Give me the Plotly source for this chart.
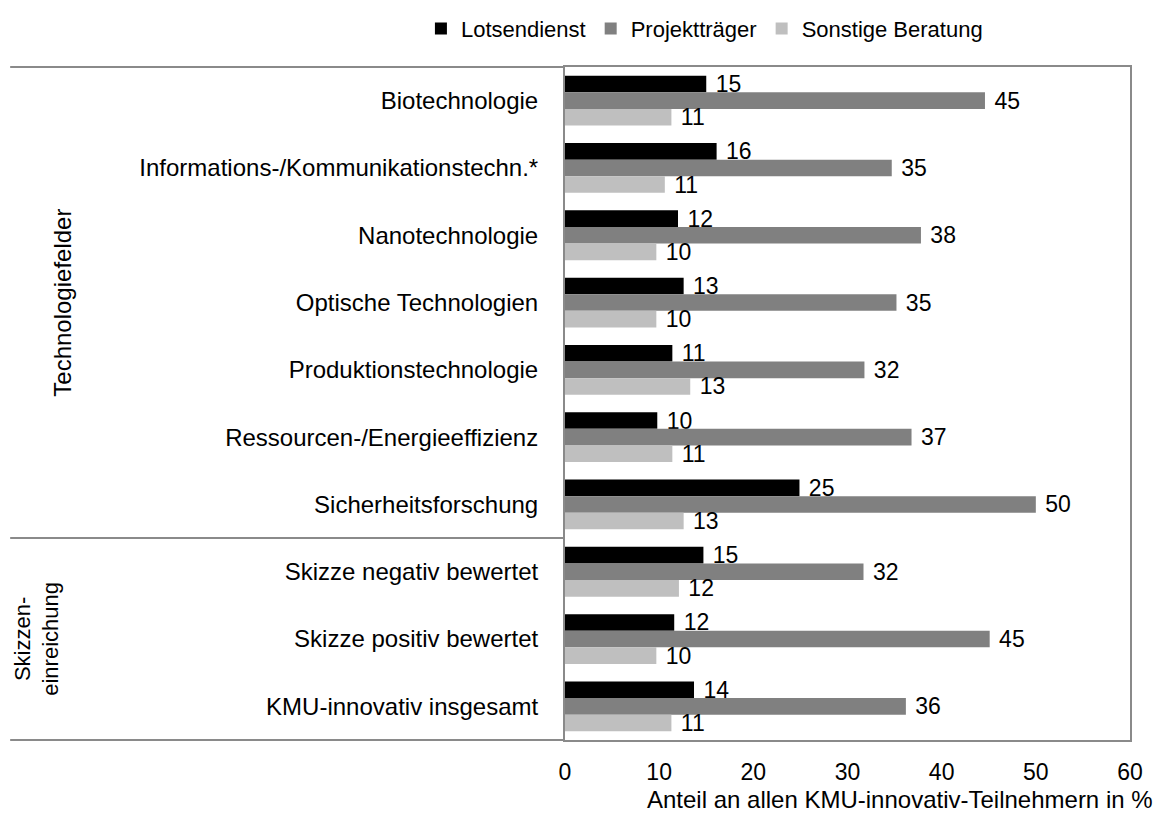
import plotly.graph_objects as go

# ── Daten ─────────────────────────────────────────────────────────────────────
categories = [
    "Biotechnologie",
    "Informations-/Kommunikationstechn.*",
    "Nanotechnologie",
    "Optische Technologien",
    "Produktionstechnologie",
    "Ressourcen-/Energieeffizienz",
    "Sicherheitsforschung",
    "Skizze negativ bewertet",
    "Skizze positiv bewertet",
    "KMU-innovativ insgesamt",
]
lotsendienst = [15.0, 16.1, 12.0, 12.6, 11.4, 9.8, 24.9, 14.7, 11.6, 13.7]
projekttraeger = [44.6, 34.7, 37.8, 35.2, 31.8, 36.8, 50.0, 31.7, 45.1, 36.2]
sonstige = [11.3, 10.6, 9.7, 9.7, 13.3, 11.4, 12.6, 12.1, 9.7, 11.3]

x_ticks = [0, 10, 20, 30, 40, 50, 60]

FONT = "Liberation Sans, Arial, sans-serif"
LINE = "#8a8a8a"

series = [
    ("Lotsendienst", lotsendienst, "#000000"),
    ("Projektträger", projekttraeger, "#808080"),
    ("Sonstige Beratung", sonstige, "#bfbfbf"),
]

fig = go.Figure()
for name, vals, col in series:
    fig.add_trace(go.Bar(
        name=name,
        y=categories,
        x=vals,
        orientation="h",
        marker=dict(color=col, line=dict(width=0)),
        texttemplate="\u00a0%{x:.0f}",
        textposition="outside",
        constraintext="none",
        cliponaxis=False,
        textfont=dict(size=23, color="black", family=FONT),
    ))

# Trennlinien links neben dem Diagramm
fig.add_shape(type="line", xref="paper", yref="paper",
              x0=-0.982, x1=0, y0=1, y1=1, line=dict(color=LINE, width=2))
fig.add_shape(type="line", xref="paper", yref="paper",
              x0=-0.982, x1=0, y0=0, y1=0, line=dict(color=LINE, width=2))
fig.add_shape(type="line", xref="paper", yref="y",
              x0=-0.982, x1=0, y0=6.5, y1=6.5, line=dict(color=LINE, width=2))

# Gruppenbeschriftungen
fig.add_annotation(text="Technologiefelder", xref="paper", yref="y",
                   x=-0.89, y=3, textangle=-90, showarrow=False,
                   xanchor="center", yanchor="middle",
                   font=dict(size=24, color="black", family=FONT))
fig.add_annotation(text="Skizzen-<br>einreichung", xref="paper", yref="y",
                   x=-0.935, y=8, textangle=-90, showarrow=False,
                   xanchor="center", yanchor="middle",
                   font=dict(size=22, color="black", family=FONT))

# Achsentitel
fig.add_annotation(text="Anteil an allen KMU-innovativ-Teilnehmern in %",
                   xref="paper", yref="paper", x=1.044, y=-0.089,
                   xanchor="right", yanchor="middle", showarrow=False,
                   font=dict(size=24, color="black", family=FONT))

fig.update_layout(
    width=1160,
    height=811,
    barmode="group",
    bargap=0.26,
    bargroupgap=0,
    plot_bgcolor="white",
    paper_bgcolor="white",
    font=dict(family=FONT, size=24, color="black"),
    margin=dict(l=557, r=38, t=59, b=79, autoexpand=False),
    legend=dict(
        orientation="h",
        x=-0.255, xanchor="left",
        y=1.088, yanchor="top",
        font=dict(size=22, family=FONT),
        itemwidth=30,
        traceorder="normal",
    ),
    xaxis=dict(
        range=[0, 60],
        tickvals=x_ticks,
        showgrid=False,
        zeroline=False,
        showline=True,
        mirror=True,
        linecolor=LINE,
        linewidth=2,
        ticks="",
        ticklabelstandoff=10,
        tickfont=dict(size=23),
        automargin=False,
    ),
    yaxis=dict(
        autorange="reversed",
        showgrid=False,
        showline=True,
        mirror=True,
        linecolor=LINE,
        linewidth=2,
        ticks="",
        ticklabelstandoff=20,
        tickfont=dict(size=24),
        automargin=False,
    ),
)

fig.write_html("out.html")
